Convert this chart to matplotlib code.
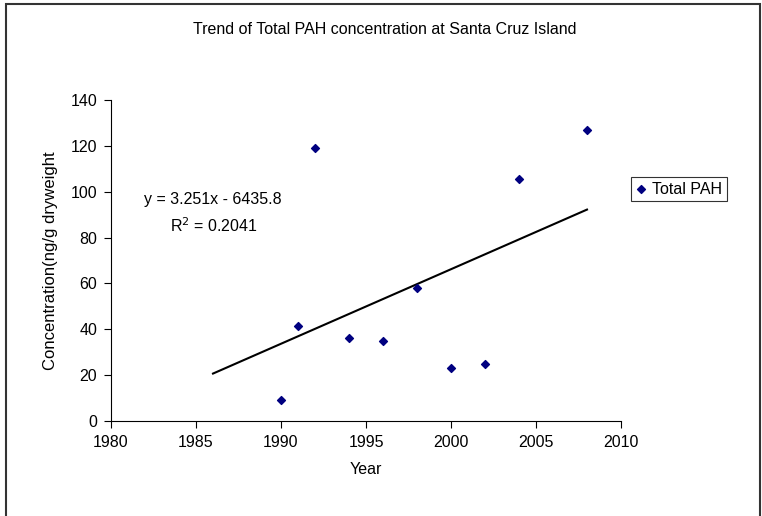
import matplotlib
matplotlib.use("Agg")
import matplotlib.pyplot as plt
from matplotlib.patches import Rectangle

plt.rcParams['font.family'] = ['Liberation Sans', 'DejaVu Sans']

years = [1990, 1991, 1992, 1994, 1996, 1998, 2000, 2002, 2004, 2008]
total_pah = [9, 41.5, 119, 36, 35, 58, 23, 25, 105.5, 127]
slope = 3.251
intercept = -6435.8
trend_x = [1986, 2008]
x_ticks = [1980, 1985, 1990, 1995, 2000, 2005, 2010]
y_ticks = [0, 20, 40, 60, 80, 100, 120, 140]

W, H = 762, 516
fig = plt.figure(figsize=(W / 100, H / 100), dpi=100)
ax = fig.add_axes([111 / W, 1 - 421 / H, (621 - 111) / W, (421 - 100) / H])

ax.scatter(years, total_pah, marker='D', s=16, color='#000080', zorder=3, label='Total PAH')
trend_y = [slope * x + intercept for x in trend_x]
ax.plot(trend_x, trend_y, color='black', lw=1.5, zorder=2)

ax.set_xlim(1980, 2010)
ax.set_ylim(0, 140)
ax.set_xticks(x_ticks)
ax.set_yticks(y_ticks)
for s in ['top', 'right']:
    ax.spines[s].set_visible(False)
for s in ['left', 'bottom']:
    ax.spines[s].set_linewidth(0.8)
ax.tick_params(direction='out', length=5, width=0.8, labelsize=11.5, pad=5)
ax.set_xlabel('Year', fontsize=11.5, labelpad=9)
ax.set_ylabel('Concentration(ng/g dryweight', fontsize=12, labelpad=9)

fig.text(385 / W, 1 - 30 / H, 'Trend of Total PAH concentration at Santa Cruz Island',
         ha='center', va='center', fontsize=11.5)

ax.text(1981.95, 96.5, 'y = 3.251x - 6435.8', fontsize=11.5, va='center', ha='left')
ax.text(1983.5, 85.0, r'R$^2$ = 0.2041', fontsize=11.5, va='center', ha='left')

leg = fig.legend(loc='center left', bbox_to_anchor=(631 / W, 1 - 189 / H), fontsize=11.5,
                 frameon=True, fancybox=False, edgecolor='black', handlelength=0.6,
                 handletextpad=0.4, borderpad=0.3, borderaxespad=0)
leg.get_frame().set_linewidth(0.8)

fig.patches.append(Rectangle((6 / W, -0.1), (760 - 6) / W, 1.1 - 4 / H,
                             transform=fig.transFigure, fill=False,
                             edgecolor='#333333', lw=1.5))

fig.savefig('out.png', dpi=100)
